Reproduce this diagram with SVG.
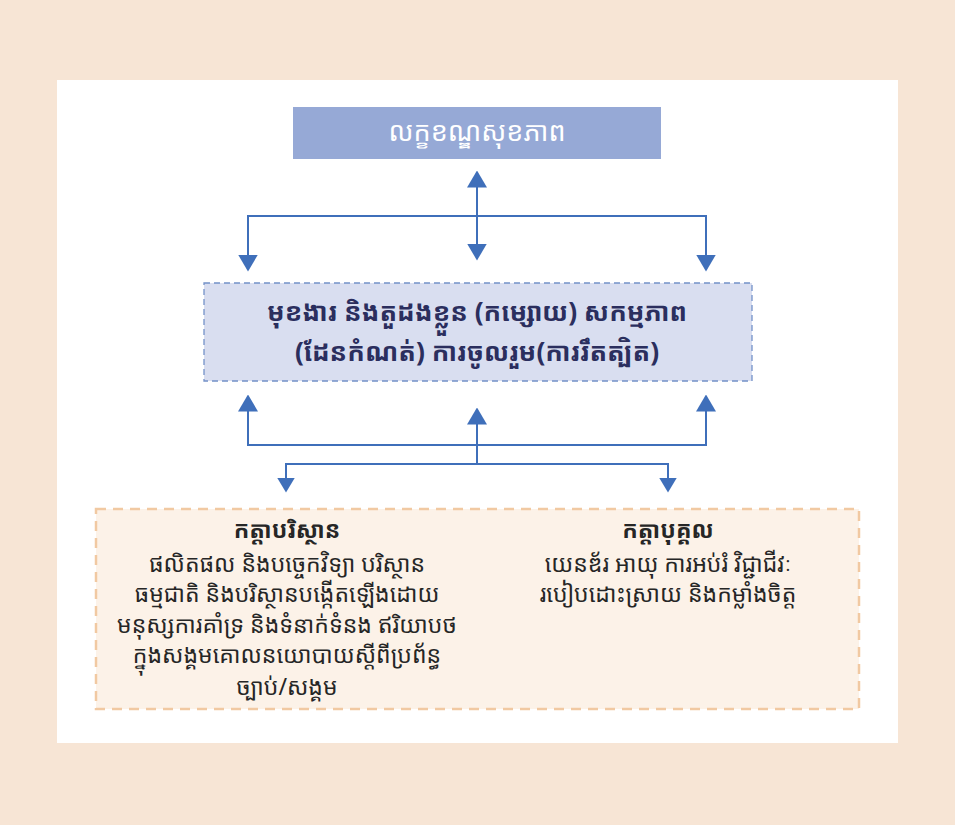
<svg xmlns="http://www.w3.org/2000/svg" width="955" height="825" viewBox="0 0 955 825">
<defs>
<style>
.km{font-family:"Noto Sans Khmer","Noto Serif Khmer","Khmer OS Battambang","Khmer OS","Hanuman","Noto Sans",sans-serif;text-anchor:middle}
.t1{font-size:27px;fill:#ffffff}
.t2{font-size:26px;font-weight:bold;fill:#2b2e5e}
.t3{font-size:23px;fill:#262626}
.t3b{font-weight:bold}
.con{fill:none;stroke:#3f6fba;stroke-width:2}
</style>
<marker id="ah" viewBox="0 0 17 20" refX="0.5" refY="10" markerWidth="17" markerHeight="20" markerUnits="userSpaceOnUse" orient="auto-start-reverse"><path d="M0,0 L17,10 L0,20 Z" fill="#3f6fba"/></marker>
<marker id="as" viewBox="0 0 15 18" refX="0.5" refY="9" markerWidth="15" markerHeight="18" markerUnits="userSpaceOnUse" orient="auto-start-reverse"><path d="M0,0 L15,9 L0,18 Z" fill="#3f6fba"/></marker>
</defs>
<rect x="0" y="0" width="955" height="825" fill="#f7e5d5"/>
<rect x="57" y="80" width="841" height="663" fill="#ffffff"/>
<g id="top">
<rect x="293" y="107" width="368" height="52" fill="#96a9d6"/>
<text class="km t1" x="477" y="141">លក្ខខណ្ឌសុខភាព</text>
</g>
<g id="middle">
<rect x="204" y="283" width="548" height="98" fill="#d9def0" stroke="#7391c8" stroke-width="1.3" stroke-dasharray="6,4"/>
<text class="km t2" x="477" y="321">មុខងារ និងតួដងខ្លួន (កម្សោយ) សកម្មភាព</text>
<text class="km t2" x="477" y="361">(ដែនកំណត់) ការចូលរួម(ការរឹតត្បិត)</text>
</g>
<g id="bottom">
<rect x="96" y="509" width="763" height="200" fill="#fcf2e8" stroke="#f1c9a2" stroke-width="2.5" stroke-dasharray="10,7"/>
</g>
<g id="env">
<text class="km t3 t3b" x="287" y="538">កត្តាបរិស្ថាន</text>
<text class="km t3" x="287" y="572">ផលិតផល និងបច្ចេកវិទ្យា បរិស្ថាន</text>
<text class="km t3" x="287" y="602">ធម្មជាតិ និងបរិស្ថានបង្កើតឡើងដោយ</text>
<text class="km t3" x="287" y="633">មនុស្សការគាំទ្រ និងទំនាក់ទំនង ឥរិយាបថ</text>
<text class="km t3" x="287" y="663">ក្នុងសង្គមគោលនយោបាយស្តីពីប្រព័ន្ធ</text>
<text class="km t3" x="287" y="695">ច្បាប់/សង្គម</text>
</g>
<g id="personal">
<text class="km t3 t3b" x="668" y="538">កត្តាបុគ្គល</text>
<text class="km t3" x="668" y="572">យេនឌ័រ អាយុ ការអប់រំ វិជ្ជាជីវៈ</text>
<text class="km t3" x="668" y="602">របៀបដោះស្រាយ និងកម្លាំងចិត្ត</text>
</g>
<g id="connectors">
<path class="con" d="M477,187 L477,244" marker-start="url(#ah)" marker-end="url(#ah)"/>
<path class="con" d="M248,216 L706,216"/>
<path class="con" d="M248,215 L248,255" marker-end="url(#ah)"/>
<path class="con" d="M706,215 L706,255" marker-end="url(#ah)"/>
<path class="con" d="M248,446 L248,411" marker-end="url(#ah)"/>
<path class="con" d="M706,446 L706,411" marker-end="url(#ah)"/>
<path class="con" d="M248,445 L706,445"/>
<path class="con" d="M477,465 L477,424" marker-end="url(#ah)"/>
<path class="con" d="M286,464 L668,464"/>
<path class="con" d="M286,463 L286,478" marker-end="url(#as)"/>
<path class="con" d="M668,463 L668,478" marker-end="url(#as)"/>
</g>
</svg>
